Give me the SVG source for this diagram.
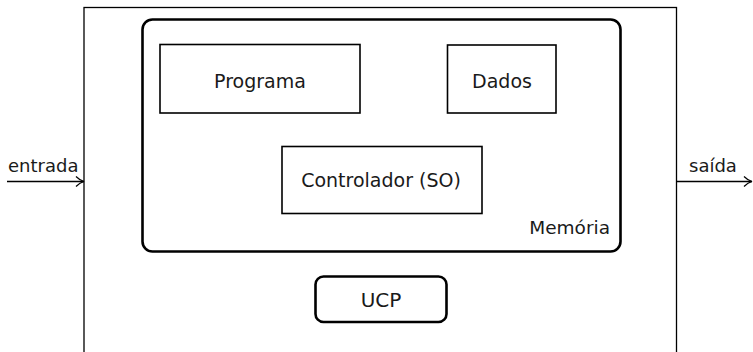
<svg xmlns="http://www.w3.org/2000/svg" width="753" height="352" viewBox="0 0 753 352">
<defs>
<marker id="arr" markerWidth="10" markerHeight="12" refX="9" refY="6" orient="auto" markerUnits="userSpaceOnUse">
<path d="M1,1 Q5,5 9,6 Q5,7 1,11" fill="none" stroke="#000" stroke-width="1.2"/>
</marker>
<style>
text{font-family:"DejaVu Sans","Liberation Sans",sans-serif;font-size:19px;fill:#1a1a1a}
.box{fill:none;stroke:#000;stroke-width:1.6}
.rbox{fill:none;stroke:#000;stroke-width:2.6}
.conn{fill:none;stroke:#000;stroke-width:1.3}
</style>
</defs>
<g id="sistema">
<rect x="84" y="7.5" width="592.5" height="360" fill="none" stroke="#000" stroke-width="1.3"/>
</g>
<g id="memoria">
<rect class="rbox" x="142.5" y="19.5" width="478" height="232" rx="10"/>
<text x="610" y="233.5" text-anchor="end" style="font-size:18.5px">Memória</text>
</g>
<g id="programa">
<rect class="box" x="160" y="44.5" width="200" height="68.5"/>
<text x="260" y="87.5" text-anchor="middle">Programa</text>
</g>
<g id="dados">
<rect class="box" x="447.5" y="45" width="108.5" height="68"/>
<text x="502" y="87.5" text-anchor="middle">Dados</text>
</g>
<g id="controlador">
<rect class="box" x="282" y="146.5" width="200" height="67"/>
<text x="381" y="187" text-anchor="middle">Controlador (SO)</text>
</g>
<g id="ucp">
<rect class="rbox" x="315.5" y="276.5" width="131" height="45.5" rx="8"/>
<text x="381" y="306.5" text-anchor="middle" style="font-size:20px">UCP</text>
</g>
<g id="connectors">
<line class="conn" x1="7" y1="181.5" x2="84" y2="181.5" marker-end="url(#arr)"/>
<text x="8" y="171.5" style="font-size:18px">entrada</text>
<line class="conn" x1="676.5" y1="181.5" x2="752" y2="181.5" marker-end="url(#arr)"/>
<text x="689" y="171.5" style="font-size:18px">saída</text>
</g>
</svg>
